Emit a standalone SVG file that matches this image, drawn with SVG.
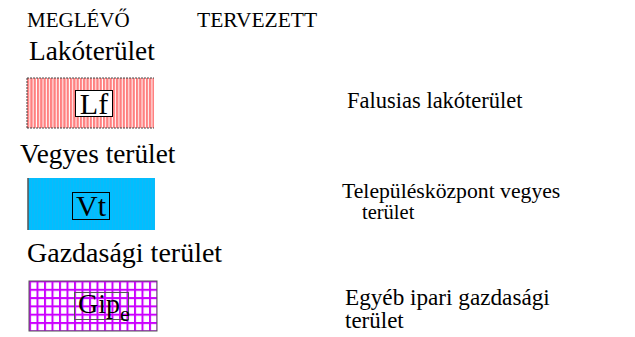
<svg xmlns="http://www.w3.org/2000/svg" width="635" height="337" viewBox="0 0 635 337">
<defs>
<pattern id="redStripes" patternUnits="userSpaceOnUse" x="27" y="0" width="3.3" height="10">
<rect x="0" y="0" width="3.3" height="10" fill="#ffffff"/>
<rect x="0" y="0" width="2.3" height="10" fill="#ff8080"/>
</pattern>
<pattern id="cyanStripes" patternUnits="userSpaceOnUse" x="28" y="0" width="3" height="10">
<rect x="0" y="0" width="3" height="10" fill="#00bfff"/>
<rect x="0" y="0" width="1" height="10" fill="#10b8f8"/>
</pattern>
<pattern id="purpleGrid" patternUnits="userSpaceOnUse" x="29" y="280.5" width="7.5" height="8.3">
<rect x="0" y="0" width="7.5" height="8.3" fill="#ffffff"/>
<rect x="0" y="0" width="2" height="8.3" fill="#cc00ff"/>
<rect x="0" y="0" width="7.5" height="2" fill="#cc00ff"/>
</pattern>
</defs>
<style>
text{font-family:'Liberation Serif','Times New Roman',serif;fill:#000}
</style>
<g font-family="'Liberation Serif','Times New Roman',serif">
<text x="27" y="27" font-size="21">MEGLÉVŐ</text>
<text x="197" y="27" font-size="21.5">TERVEZETT</text>
<text x="29" y="60" font-size="27.3">Lakóterület</text>
<text x="20" y="163" font-size="27.3">Vegyes terület</text>
<text x="27" y="262" font-size="28">Gazdasági terület</text>
</g>
<g id="lf" font-family="'Liberation Serif','Times New Roman',serif">
<rect x="27" y="78" width="127" height="50" fill="url(#redStripes)"/>
<path d="M27,78 H154 M27,128 H154 M27,78 V128" fill="none" stroke="#444" stroke-width="1" stroke-dasharray="2,1"/>
<rect x="75.5" y="90.5" width="37" height="26" fill="#fff" stroke="#000"/>
<text x="94" y="114" font-size="30" text-anchor="middle">Lf</text>
</g>
<g id="vt" font-family="'Liberation Serif','Times New Roman',serif">
<rect x="28" y="178" width="127" height="52" fill="url(#cyanStripes)"/>
<path d="M28,178 V230" stroke="#555" stroke-width="1.5"/>
<rect x="72.5" y="192.5" width="37" height="27" fill="none" stroke="#000"/>
<text x="91" y="216" font-size="30" text-anchor="middle">Vt</text>
</g>
<g id="gip" font-family="'Liberation Serif','Times New Roman',serif">
<rect x="29" y="281" width="128" height="50" fill="url(#purpleGrid)"/>
<rect x="29" y="281" width="128" height="50" fill="none" stroke="#555" stroke-width="1"/>
<rect x="74.5" y="292.5" width="54" height="27" fill="none" stroke="#555"/>
<text x="78" y="313" font-size="28">Gip<tspan font-size="22" dy="8">e</tspan></text>
</g>
<g font-family="'Liberation Serif','Times New Roman',serif">
<text x="347" y="108" font-size="22.5">Falusias lakóterület</text>
<text x="342" y="198" font-size="21.7">Településközpont vegyes</text>
<text x="362" y="219" font-size="20.5">terület</text>
<text x="345" y="305" font-size="23.2">Egyéb ipari gazdasági</text>
<text x="345" y="328" font-size="23">terület</text>
</g>
</svg>
